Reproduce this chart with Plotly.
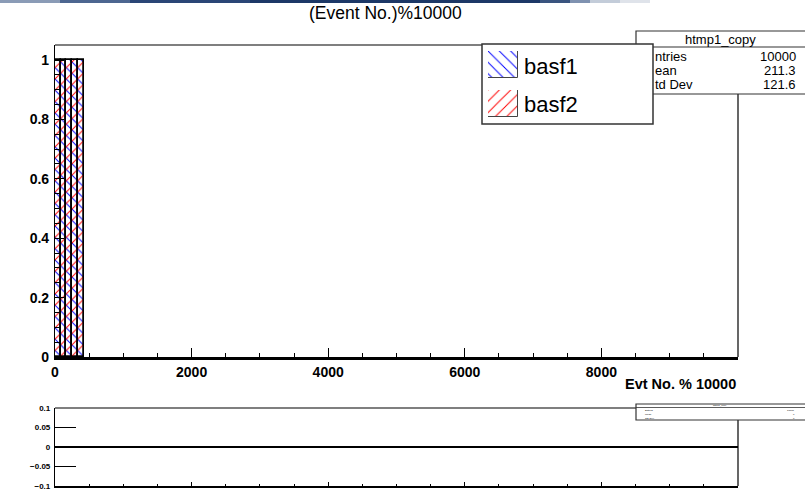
import plotly.graph_objects as go

W, H = 805, 491
def xp(px): return px / W
def yp(py): return 1 - py / H

# ---- data ----
bin_edges = [0, 84, 168, 252, 336, 420]
basf1_vals = [1, 1, 1, 1, 1]
basf2_vals = [1, 1, 1, 1, 1]
x_tickvals = [0, 2000, 4000, 6000, 8000]
y_tickvals = [0, 0.2, 0.4, 0.6, 0.8, 1]
ratio_tickvals = [-0.1, -0.05, 0, 0.05, 0.1]
stats_rows = [("ntries", "10000"), ("ean", "211.3"), ("td Dev", "121.6")]
legend_names = ["basf1", "basf2"]

centers = [(a + b) / 2 for a, b in zip(bin_edges[:-1], bin_edges[1:])]
widths = [b - a for a, b in zip(bin_edges[:-1], bin_edges[1:])]

BOLD = dict(family="Liberation Sans", weight="bold", color="black")
fig = go.Figure()

fig.add_trace(go.Bar(
    x=centers, y=basf1_vals, width=widths, name="basf1", xaxis="x", yaxis="y",
    marker=dict(color="rgba(0,0,0,0)", line=dict(color="black", width=1.5),
                pattern=dict(shape="\\", fgcolor="blue", bgcolor="rgba(0,0,0,0)",
                             size=8, solidity=0.12, fillmode="replace")),
    showlegend=False))
fig.add_trace(go.Bar(
    x=centers, y=basf2_vals, width=widths, name="basf2", xaxis="x", yaxis="y",
    marker=dict(color="rgba(0,0,0,0)", line=dict(color="black", width=1.5),
                pattern=dict(shape="/", fgcolor="red", bgcolor="rgba(0,0,0,0)",
                             size=8, solidity=0.12, fillmode="replace")),
    showlegend=False))

# lower (ratio) panel: empty, just axis
fig.add_trace(go.Scatter(x=[None], y=[None], xaxis="x2", yaxis="y2", showlegend=False))

# legend key patches
patch_cfg = [("\\", "blue", 51, 78, "x3", "y3"), ("/", "red", 90, 117, "x4", "y4")]
for (shape, col, t, b, xa, ya) in patch_cfg:
    fig.add_trace(go.Bar(
        x=[0], y=[1], width=[1], xaxis=xa, yaxis=ya, showlegend=False, hoverinfo="skip",
        marker=dict(color="white", line=dict(color="#444", width=1),
                    pattern=dict(shape=shape, fgcolor=col, bgcolor="white",
                                 size=8, solidity=0.12, fillmode="replace"))))

x_l, x_r = 55, 738
layout = dict(
    template="none",
    width=W, height=H, margin=dict(l=0, r=0, t=0, b=0, autoexpand=False),
    paper_bgcolor="white", plot_bgcolor="rgba(0,0,0,0)",
    barmode="overlay", bargap=0,
    xaxis=dict(domain=[xp(x_l), xp(x_r)], range=[0, 10000], showgrid=False, zeroline=False,
               automargin=False,
               showline=True, linecolor="black", linewidth=2.5,
               tickmode="array", tickvals=x_tickvals, ticks="inside", ticklen=9,
               tickwidth=1.2, tickcolor="black",
               minor=dict(dtick=500, tick0=0, ticks="inside", ticklen=4.5, tickcolor="black", tickwidth=1),
               tickfont=dict(size=14, **BOLD), anchor="y"),
    yaxis=dict(domain=[yp(357), yp(45)], range=[0, 1.0505], showgrid=False, zeroline=False,
               automargin=False,
               showline=True, linecolor="black", linewidth=1.2,
               tickmode="array", tickvals=y_tickvals, ticks="inside", ticklen=9,
               tickwidth=1.2, tickcolor="black", ticklabelstandoff=2,
               minor=dict(dtick=0.05, tick0=0, ticks="inside", ticklen=4.5, tickcolor="black", tickwidth=1),
               tickfont=dict(size=14, **BOLD), anchor="x"),
    xaxis2=dict(domain=[xp(x_l), xp(x_r)], range=[0, 10000], showgrid=False, zeroline=False,
                automargin=False,
                showline=True, linecolor="black", linewidth=2,
                tickmode="array", tickvals=x_tickvals, ticks="inside", ticklen=4,
                tickwidth=1, tickcolor="black", showticklabels=False,
                minor=dict(dtick=500, tick0=0, ticks="inside", ticklen=2, tickcolor="black"),
                anchor="y2"),
    yaxis2=dict(domain=[yp(486), yp(408)], range=[-0.1, 0.1], showgrid=False,
                automargin=False,
                zeroline=True, zerolinecolor="black", zerolinewidth=2,
                showline=True, linecolor="black", linewidth=1.2,
                tickmode="array", tickvals=ratio_tickvals, ticks="inside", ticklen=21,
                tickwidth=1.2, tickcolor="black", ticklabelstandoff=2,
                tickfont=dict(size=8, **BOLD), anchor="x2"),
    xaxis3=dict(domain=[xp(488), xp(518)], range=[-0.5, 0.5], visible=False, anchor="y3", fixedrange=True),
    yaxis3=dict(domain=[yp(78), yp(51)], range=[0, 1], visible=False, anchor="x3", fixedrange=True),
    xaxis4=dict(domain=[xp(488), xp(518)], range=[-0.5, 0.5], visible=False, anchor="y4", fixedrange=True),
    yaxis4=dict(domain=[yp(117), yp(90)], range=[0, 1], visible=False, anchor="x4", fixedrange=True),
)
fig.update_layout(**layout)

shapes = []
def rect(x0, y0, x1, y1, **kw):
    d = dict(type="rect", xref="paper", yref="paper", x0=xp(x0), x1=xp(x1), y0=yp(y1), y1=yp(y0), layer="below")
    d.update(kw); shapes.append(d)
def line(x0, y0, x1, y1, color="black", width=1, layer="below"):
    shapes.append(dict(type="line", xref="paper", yref="paper", x0=xp(x0), x1=xp(x1),
                       y0=yp(y0), y1=yp(y1), line=dict(color=color, width=width), layer=layer))

# top banner gradient
banner = [(0, 60, "#8a9bb6"), (60, 130, "#4d6690"), (130, 250, "#2a4676"), (250, 540, "#1d3867"),
          (540, 570, "#3a547f"), (570, 590, "#7f92b0"), (590, 620, "#c3ccd9"), (620, 650, "#dfe3ea")]
for a, b, c in banner:
    rect(a, 0, b, 3, fillcolor=c, line=dict(width=0))

# main frame top and right
line(x_l, 45, 482, 45, width=1.2)
line(x_r, 94, x_r, 357, width=1.2)
# lower frame top and right
line(x_l, 408, 636, 408, width=1.2)
line(x_r, 420, x_r, 486, width=1.2)

# stats box (main)
rect(636, 31, 807, 94, fillcolor="white", line=dict(color="#333", width=1.2))
line(636, 47, 807, 47, color="#333", width=1.2)
# legend box
rect(482, 44, 653, 124, fillcolor="white", line=dict(color="#333", width=1.5))
# lower stats box
rect(636, 404, 807, 420, fillcolor="white", line=dict(color="#333", width=1.2))
line(636, 407.5, 807, 407.5, color="#333", width=0.8)

fig.update_layout(shapes=shapes)

ann = []
def text(x, y, s, size, xanchor="center", bold=False, color="black"):
    f = dict(family="Liberation Sans", size=size, color=color)
    if bold: f["weight"] = "bold"
    ann.append(dict(x=xp(x), y=yp(y), xref="paper", yref="paper", text=s, showarrow=False,
                    xanchor=xanchor, yanchor="middle", font=f))

text(385, 13, "(Event No.)%10000", 17.5)
text(738, 384, "Evt No. % 10000", 14.5, xanchor="right", bold=True)
text(720, 39, "htmp1_copy", 13)
for (lab, val), yy in zip(stats_rows, [56, 70, 85]):
    text(653, yy, lab, 13, xanchor="left")
    text(798, yy, val, 13, xanchor="right")
for name, yy in zip(legend_names, [66, 104]):
    text(522, yy, name, 22, xanchor="left")
# lower stats box tiny text
text(720, 405.8, "htmp1_copy", 2.5)
for (lab, val), yy in zip([("Entries", "10000"), ("Mean", "0"), ("Std Dev", "0")], [410, 414, 418]):
    text(643, yy, lab, 2.5, xanchor="left")
    text(797, yy, val, 2.5, xanchor="right")
fig.update_layout(annotations=ann)

fig.write_html("out.html")
